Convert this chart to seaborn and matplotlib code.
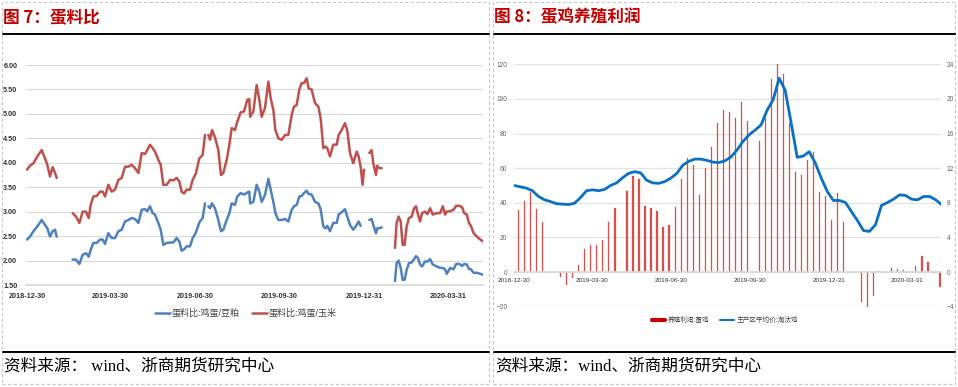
import numpy as np
import pandas as pd
import seaborn as sns
import matplotlib.pyplot as plt
from matplotlib.lines import Line2D
from matplotlib.patches import Rectangle

# ---- 图7 蛋料比 : days since 2018-12-30, NaN rows are the holiday gaps
ratio_days = [0, 3.3, 6.9, 11.2, 15.9, 19.5, 22.0, 24.9, 27.8, 30.4, 32.2, 40,
              49.5, 53.1, 56.8, 60.4, 64.0, 66.9, 69.1, 71.9, 75.6, 79.2, 82.1, 84.6,
              88.2, 91.8, 95.4, 99.1, 102.7, 106.3, 109.9, 113.5, 117.1, 120.8, 124.4, 128.0,
              130.5, 133.4, 136.3, 138.8, 142.4, 145.0, 147.9, 151.5, 155.1, 158.7, 162.3, 165.2,
              167.7, 170.3, 173.2, 176.8, 179.7, 183.3, 186.9, 190.5, 193.1, 195,
              196.7, 198.5, 200.7, 203.9, 207.5, 210.4, 212.9, 216.6, 219.5, 222.0, 225.6, 228.1,
              231.7, 235.4, 239.0, 241.1, 242.0, 245.5, 249.1, 252.0, 254.5, 258.1, 261.8, 264.3,
              267.2, 269.4, 272.6, 276.2, 279.9, 283.5, 287.1, 289.6, 292.5, 295.4, 297.9, 300.4,
              303.3, 305.5, 308.7, 312.4, 316.0, 318.5, 321.4, 323.6, 325.7, 328.6, 332.2, 335.9,
              338.0, 341.3, 344.9, 347.4, 350.3, 353.9, 357.6, 359.7, 361.9, 364.0, 365.5, 368,
              371.3, 373.8, 375.6, 378.5, 379.9, 382.1, 384.7, 392,
              399.1, 400.9, 403.1, 405.3, 407.5, 409.6, 411.8, 414.3, 417.2, 419.8, 421.9, 424.1,
              426.3, 428.5, 431.7, 434.3, 437.2, 440.1, 444.4, 448.1, 451.0, 453.5, 455.3, 459.0,
              462.6, 465.5, 469.1, 472.0, 474.2, 477.1, 479.3, 481.5, 484.4, 488.0, 491.6, 494.5]
nan = np.nan
ratio_corn = [3.86, 3.94, 3.99, 4.13, 4.26, 4.09, 3.96, 3.72, 3.91, 3.79, 3.69, nan,
              2.97, 2.90, 2.77, 3.00, 3.00, 2.87, 3.14, 3.31, 3.32, 3.41, 3.41, 3.31,
              3.55, 3.41, 3.45, 3.65, 3.69, 3.92, 3.92, 3.96, 3.89, 3.79, 4.20, 4.18,
              4.26, 4.37, 4.30, 4.23, 4.06, 3.96, 3.55, 3.55, 3.65, 3.64, 3.69, 3.62,
              3.41, 3.37, 3.45, 3.45, 3.65, 3.79, 4.09, 4.16, 4.57, nan,
              4.57, 4.47, 4.67, 4.52, 4.26, 3.75, 3.79, 4.06, 4.37, 4.71, 4.67, 4.84,
              5.03, 5.05, 5.29, 5.30, 4.94, 5.05, 5.59, 5.29, 4.94, 5.12, 5.66, 5.32,
              5.08, 4.67, 4.50, 4.47, 4.57, 4.57, 4.98, 5.15, 5.18, 5.50, 5.63, 5.63,
              5.73, 5.52, 5.50, 5.22, 5.15, 4.91, 4.30, 4.33, 4.30, 4.13, 4.37, 4.37,
              4.57, 4.67, 4.81, 4.66, 4.20, 3.99, 4.23, 4.13, 3.92, 3.55, 3.86, nan,
              4.20, 4.26, 3.99, 3.75, 3.94, 3.89, 3.89, nan,
              2.26, 2.77, 2.90, 2.80, 2.32, 2.32, 2.70, 2.87, 2.90, 3.07, 3.11, 2.94,
              2.80, 2.97, 3.00, 2.95, 3.07, 2.94, 2.97, 2.97, 3.11, 2.94, 3.00, 3.01,
              3.04, 3.12, 3.12, 3.09, 2.97, 2.94, 2.77, 2.71, 2.56, 2.49, 2.43, 2.39]
ratio_soymeal = [2.43, 2.49, 2.60, 2.70, 2.83, 2.73, 2.66, 2.49, 2.60, 2.63, 2.49, nan,
                 2.02, 2.02, 1.93, 2.12, 2.15, 2.08, 2.22, 2.36, 2.36, 2.43, 2.43, 2.34,
                 2.56, 2.46, 2.46, 2.60, 2.63, 2.80, 2.83, 2.87, 2.85, 2.77, 3.04, 3.05,
                 3.01, 3.11, 2.97, 2.94, 2.77, 2.63, 2.32, 2.36, 2.37, 2.37, 2.46, 2.39,
                 2.20, 2.23, 2.29, 2.29, 2.46, 2.58, 2.78, 2.87, 3.17, nan,
                 3.11, 3.07, 3.17, 3.07, 2.83, 2.60, 2.63, 2.83, 2.97, 3.17, 3.14, 3.31,
                 3.38, 3.35, 3.39, 3.41, 3.17, 3.20, 3.55, 3.41, 3.20, 3.34, 3.67, 3.45,
                 3.20, 2.97, 2.83, 2.83, 2.85, 2.80, 3.04, 3.11, 3.14, 3.31, 3.32, 3.38,
                 3.43, 3.36, 3.35, 3.20, 3.17, 3.05, 2.70, 2.66, 2.71, 2.60, 2.77, 2.77,
                 2.94, 2.99, 3.05, 2.90, 2.73, 2.63, 2.73, 2.80, 2.71, nan, nan, nan,
                 2.83, 2.85, 2.73, 2.56, 2.66, 2.66, 2.68, nan,
                 1.58, 1.95, 2.00, 1.85, 1.60, 1.61, 1.81, 1.95, 1.96, 2.03, 2.09, 2.05,
                 1.92, 1.88, 1.98, 1.98, 2.03, 1.92, 1.88, 1.85, 1.85, 1.82, 1.73, 1.85,
                 1.82, 1.93, 1.93, 1.89, 1.93, 1.92, 1.83, 1.82, 1.75, 1.75, 1.73, 1.71]

# ---- 图8 蛋鸡养殖利润 : weekly data
profit_start, price_start = '2019-01-04', '2018-12-30'
layer_profit = [35.6, 41.3, 46.5, 36.5, 28.7, nan, nan, -2.7, -7.5, -3.7,
                4.2, 13.5, 15.6, 15.6, 18.5, 28.8, 37.1, nan, 46.7, 55.2,
                53.7, 37.9, 37.1, 35.0, 26.3, 26.9, 37.7, 53.8, 66.0, 61.9,
                44.8, 60.2, 72.3, 86.2, 93.7, 92.7, 88.8, 98.5, 87.3, nan,
                75.8, 88.8, 111.5, 120.2, 114.4, 86.3, 57.7, 56.2, 65.0, 69.4,
                46.3, 44.0, 30.2, 45.6, 28.8, nan, nan, -17.5, -20.2, -13.7,
                0.4, -0.4, 2.5, 1.7, 1.3, nan, 3.7, 9.4, 6.0, -0.6, -8.7]
cull_hen_price = [10.0, 9.85, 9.7, 9.4, 8.75, 8.35, 8.15, 7.9, 7.85, 7.8,
                  7.95, 8.6, 9.4, 9.5, 9.4, 9.55, 10.0, 10.3, 10.9, 11.4,
                  11.6, 11.45, 10.6, 10.3, 10.25, 10.45, 10.85, 11.4, 12.35, 12.8,
                  13.05, 13.05, 12.9, 12.7, 12.65, 12.85, 13.3, 14.1, 15.1, 15.85,
                  16.4, 17.0, 18.7, 19.9, 22.4, 21.0, 17.2, 13.25, 13.4, 13.9,
                  12.6, 10.85, 9.3, 8.27, 8.27, 8.04, 7.0, 5.96, 4.8, 4.7,
                  5.46, 7.7, 8.04, 8.42, 8.92, 8.85, 8.42, 8.35, 8.73, 8.73,
                  8.35, 7.77]

tick_labels = ['2018-12-30', '2019-03-30', '2019-06-30', '2019-09-30', '2019-12-31', '2020-03-31']

origin = pd.Timestamp('2018-12-30')
tick_days = (pd.to_datetime(tick_labels) - origin).days
profit_days = (pd.date_range(profit_start, periods=len(layer_profit), freq='7D') - origin).days
price_days = (pd.date_range(price_start, periods=len(cull_hen_price), freq='7D') - origin).days

sns.set_theme(style='white')
plt.rcParams['font.family'] = ['Liberation Sans', 'Noto Sans CJK SC']

W, H = 958, 387
fig = plt.figure(figsize=(W / 100, H / 100), dpi=100)


def fx(px):
    return px / W


def fy(py):
    return 1 - py / H


# panel frames, title rules and sources
for x0, x1, title, src in [(2, 489, '图 7：蛋料比', '资料来源： wind、浙商期货研究中心'),
                           (493, 955, '图 8：蛋鸡养殖利润', '资料来源：wind、浙商期货研究中心')]:
    fig.add_artist(Rectangle((fx(x0), fy(384)), fx(x1) - fx(x0), fy(2) - fy(384), fill=False,
                             ec='#C8C8C8', lw=0.8, ls=(0, (3, 2)), transform=fig.transFigure))
    for yy in (34, 352):
        fig.add_artist(Line2D([fx(x0 + 1), fx(x1)], [fy(yy)] * 2, color='black', lw=1.4,
                              transform=fig.transFigure))
    fig.text(fx(x0 + 1), fy(17), title, color='#C00000', fontsize=12, fontweight='bold',
             va='center', family=['Noto Sans CJK SC'])
    fig.text(fx(x0 + 2), fy(367), src, fontsize=12, va='center', color='black',
             family=['Liberation Serif', 'Noto Sans CJK SC'])

# ---------- left chart
RED, BLUE = '#C0504D', '#4F81BD'
ratio = pd.DataFrame({'day': ratio_days, '蛋料比:鸡蛋/豆粕': ratio_soymeal, '蛋料比:鸡蛋/玉米': ratio_corn})
ratio['seg'] = ratio[['蛋料比:鸡蛋/豆粕', '蛋料比:鸡蛋/玉米']].isna().all(axis=1).cumsum()
long = ratio.melt(id_vars=['day', 'seg'], var_name='series', value_name='value').dropna()

ax_l = fig.add_axes([fx(26), fy(285), fx(483) - fx(26), fy(65) - fy(285)])
sns.lineplot(data=long, x='day', y='value', hue='series', units='seg', estimator=None,
             palette={'蛋料比:鸡蛋/豆粕': BLUE, '蛋料比:鸡蛋/玉米': RED}, lw=1.8,
             legend=False, ax=ax_l)
ax_l.set_xlim(-1.1, 494.6)
ax_l.set_ylim(1.5, 6.0)
ax_l.set_yticks(np.arange(1.5, 6.01, 0.5))
ax_l.set_yticklabels([f'{v:.2f}' for v in np.arange(1.5, 6.01, 0.5)])
ax_l.set_xticks(tick_days)
ax_l.set_xticklabels(tick_labels)
ax_l.set_xlabel('')
ax_l.set_ylabel('')
ax_l.grid(axis='y', color='#D9D9D9', lw=0.8)
ax_l.set_axisbelow(True)
for s in ['top', 'right', 'left']:
    ax_l.spines[s].set_visible(False)
ax_l.spines['bottom'].set_color('#D9D9D9')
ax_l.tick_params(axis='x', length=2.5, width=0.7, color='#D9D9D9', pad=3, labelsize=5.2,
                 labelcolor='#333333')
ax_l.tick_params(axis='y', length=0, pad=6.3, labelsize=5.2, labelcolor='#333333')
for t in ax_l.get_xticklabels() + ax_l.get_yticklabels():
    t.set_fontweight('bold')
ax_l.legend([Line2D([], [], color=BLUE, lw=1.8), Line2D([], [], color=RED, lw=1.8)],
            ['蛋料比:鸡蛋/豆粕', '蛋料比:鸡蛋/玉米'], loc='center',
            bbox_to_anchor=(fx(246), fy(313)), bbox_transform=fig.transFigure, ncol=2,
            frameon=False, fontsize=6.5, handlelength=1.6, handletextpad=0.2,
            columnspacing=1.4, labelcolor='#404040')

# ---------- right chart
BAR = '#D8504C'
ax_r = fig.add_axes([fx(514.3), fy(306.7), fx(941) - fx(514.3), fy(64.3) - fy(306.7)])
bars = pd.DataFrame({'day': profit_days, 'profit': layer_profit}).dropna()
sns.barplot(data=bars, x='day', y='profit', native_scale=True, width=0.2, color=BAR,
            saturation=1, errorbar=None, ax=ax_r)
for p in ax_r.patches:
    p.set_edgecolor(BAR)
    p.set_linewidth(0.2)
ax_r.set_xlim(0, 496.2)
ax_r.set_ylim(-20, 120)
ax_r.set_yticks(range(-20, 121, 20))
ax_r.set_xticks(tick_days)
ax_r.set_xticklabels(tick_labels, fontweight='bold', family=['Liberation Serif'])
ax_r.set_xlabel('')
ax_r.set_ylabel('')
ax_r.grid(axis='y', color='#E3E3E3', lw=0.9)
ax_r.set_axisbelow(True)
for s in ['top', 'right', 'left']:
    ax_r.spines[s].set_visible(False)
ax_r.spines['bottom'].set_position(('data', 0))
ax_r.spines['bottom'].set_color('#D9D9D9')
ax_r.tick_params(axis='x', length=2, width=0.7, color='#D9D9D9', pad=2.5, labelsize=4.6,
                 labelcolor='#333333')
ax_r.tick_params(axis='y', length=0, pad=5, labelsize=4.8, labelcolor='#666666')

ax_r2 = ax_r.twinx()
sns.lineplot(x=price_days, y=cull_hen_price, color='#0A70C4', lw=2.0, ax=ax_r2)
ax_r2.set_ylim(-4, 24)
ax_r2.set_yticks(range(-4, 25, 4))
ax_r2.set_ylabel('')
for s in ax_r2.spines.values():
    s.set_visible(False)
ax_r2.tick_params(axis='y', length=0, pad=4, labelsize=4.8, labelcolor='#666666')

ax_r.legend([Line2D([], [], color='#C00000', lw=3), Line2D([], [], color='#0A70C4', lw=1.5)],
            ['养殖利润:蛋鸡', '主产区平均价:淘汰鸡'], loc='center',
            bbox_to_anchor=(fx(725), fy(320.7)), bbox_transform=fig.transFigure, ncol=2,
            frameon=False, fontsize=4.8, handlelength=2.0, handletextpad=0.4,
            columnspacing=1.6, labelcolor='#404040')

fig.savefig('out.png', dpi=100)
